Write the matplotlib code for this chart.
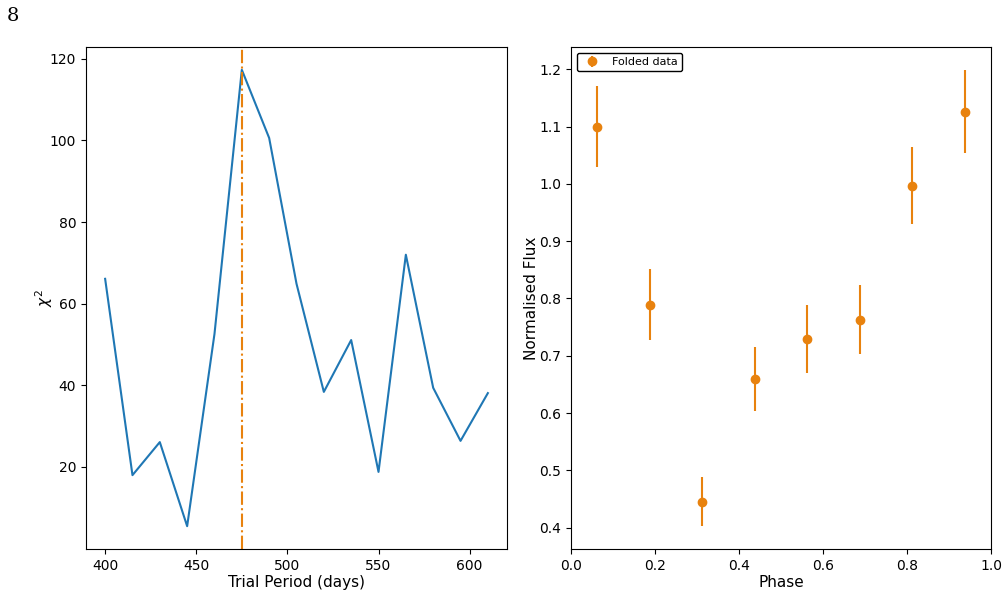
import matplotlib
matplotlib.use("Agg")
import matplotlib.pyplot as plt
import numpy as np

# Left panel: periodogram
trial_periods = [400, 415, 430, 445, 460, 475, 490, 505, 520, 535, 550, 565, 580, 595, 610]
chi2_values = [66.1, 18.0, 26.1, 5.5, 52.6, 117.3, 100.6, 64.9, 38.4, 51.1, 18.8, 72.0, 39.4, 26.4, 38.1]
best_period = 475

# Right panel: folded light curve
phase = [0.0625, 0.1875, 0.3125, 0.4375, 0.5625, 0.6875, 0.8125, 0.9375]
flux = [1.100, 0.789, 0.4455, 0.659, 0.729, 0.763, 0.997, 1.126]
flux_err = [0.071, 0.062, 0.043, 0.056, 0.060, 0.060, 0.067, 0.073]

orange = '#e8820e'

fig = plt.figure(figsize=(10.08, 6.14), dpi=100)
ax1 = fig.add_axes([86/1008, 1 - 549/614, (507-86)/1008, (549-47)/614])
ax2 = fig.add_axes([571/1008, 1 - 549/614, (991-571)/1008, (549-47)/614])

ax1.plot(trial_periods, chi2_values, color='#1f77b4', lw=1.5)
ax1.axvline(best_period, color=orange, ls='-.', lw=1.5)
ax1.set_xlabel('Trial Period (days)', fontsize=11, labelpad=1.5)
ax1.set_ylabel(r'$\chi^2$', fontsize=11, labelpad=-4)
ax1.set_yticks([20, 40, 60, 80, 100, 120])

ax2.errorbar(phase, flux, yerr=flux_err, fmt='o', color=orange, label='Folded data')
ax2.set_xlim(0, 1)
ax2.set_xlabel('Phase', fontsize=11, labelpad=1.5)
ax2.set_ylabel('Normalised Flux', fontsize=11, labelpad=0)
ax2.legend(loc='upper left', fontsize=8, fancybox=True, framealpha=1, edgecolor='black')

fig.text(7/1008, 1 - 16/614, '8', family='DejaVu Serif', fontsize=14, va='center', ha='left')

fig.savefig('out.png', dpi=100)
